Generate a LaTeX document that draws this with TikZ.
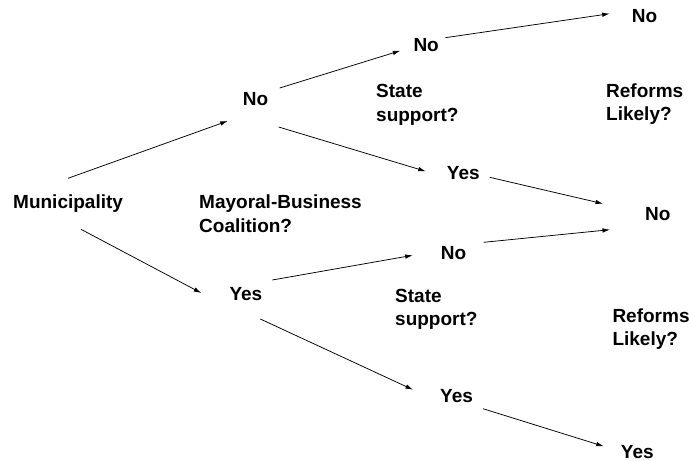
\documentclass[tikz,border=0pt]{standalone}
\usepackage{fontspec}
\setmainfont{Liberation Sans}
\usetikzlibrary{arrows.meta}

\begin{document}
\begin{tikzpicture}[x=1pt, y=-1pt,
        lbl/.style={inner sep=0pt, anchor=base west, font=\bfseries\fontsize{19}{23.5}\selectfont},
        question/.style={lbl, anchor=north west, align=left},
        arr/.style={-{Latex[length=7.5pt,width=4.5pt]}, line width=0.75pt}]
            \useasboundingbox (0,0) rectangle (689,461);
            % choices
            \node [lbl] (mun) at (13, 208.3) {Municipality};
            \node [lbl] (no1) at (242.7, 105) {No};
            \node [lbl] (yes1) at (229.3, 300) {Yes};
            \node [lbl] (notop) at (413.3, 51.7) {No};
            \node [lbl] (yestop) at (446.7, 179.3) {Yes};
            \node [lbl] (nobot) at (440.7, 259.3) {No};
            \node [lbl] (yesbot) at (440, 402.7) {Yes};
            \node [lbl] (nofin1) at (631.7, 22.7) {No};
            \node [lbl] (nofin2) at (645, 220.7) {No};
            \node [lbl] (yesfin) at (620.7, 458.3) {Yes};
            % questions
            \node [question] (coalition) at (199, 194.7) {Mayoral-Business\\Coalition?};
            \node [question] (statetop) at (376, 84.2) {State\\support?};
            \node [question] (statebot) at (395, 288.9) {State\\support?};
            \node [question] (reftop) at (606, 83.1) {Reforms\\Likely?};
            \node [question] (refbot) at (612.3, 308.1) {Reforms\\Likely?};
            % branches
            \draw [arr] ([shift={(55,-30)}]mun.base west) -- ([shift={(-15,16)}]no1.base west);
            \draw [arr] ([shift={(68,21)}]mun.base west) -- ([shift={(-28,-7)}]yes1.base west);
            \draw [arr] ([shift={(37,-17)}]no1.base west) -- ([shift={(-13,-1)}]notop.base west);
            \draw [arr] ([shift={(36,22)}]no1.base west) -- ([shift={(-21,-8)}]yestop.base west);
            \draw [arr] ([shift={(43,-20)}]yes1.base west) -- ([shift={(-28,-4)}]nobot.base west);
            \draw [arr] ([shift={(31,19)}]yes1.base west) -- ([shift={(-27,-13)}]yesbot.base west);
            \draw [arr] ([shift={(32,-14)}]notop.base west) -- ([shift={(-22,-9)}]nofin1.base west);
            \draw [arr] ([shift={(43,-2)}]yestop.base west) -- ([shift={(-42,-17)}]nofin2.base west);
            \draw [arr] ([shift={(43,-17)}]nobot.base west) -- ([shift={(-35,9)}]nofin2.base west);
            \draw [arr] ([shift={(43,6)}]yesbot.base west) -- ([shift={(-17,-12)}]yesfin.base west);
        \end{tikzpicture}
\end{document}
